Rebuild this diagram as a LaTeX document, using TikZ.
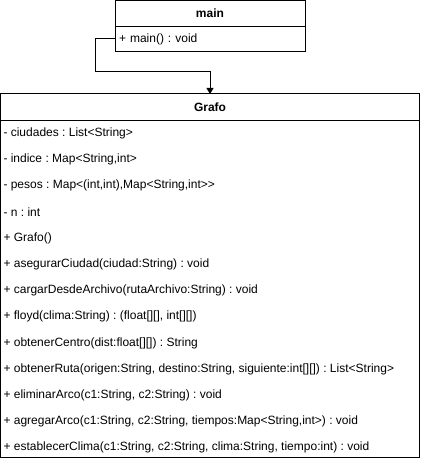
\documentclass[tikz,border=0pt]{standalone}
\usepackage{fontspec}
\setmainfont{Liberation Sans}
\usetikzlibrary{arrows.meta}
\frenchspacing
\begin{document}
\begin{tikzpicture}[x=1pt,y=-1pt,line width=1pt,
  every node/.style={inner sep=0pt,outer sep=0pt,font=\fontsize{12}{14}\selectfont},
  box/.style={draw,anchor=north west},
  head/.style={box,font=\fontsize{12}{14}\selectfont\bfseries},
  member/.style={anchor=west}]
\useasboundingbox (0,0) rectangle (421,462);
% main class
\node[head,minimum width=190pt,minimum height=26pt] (mainhead) at (115,0.5) {main};
\node[box,minimum width=190pt,minimum height=25pt,text width=182pt,align=left,inner xsep=4pt] (mainrow) at (115,26.5) {+ main() : void};
% Grafo class
\node[head,minimum width=419pt,minimum height=27pt] (grafo) at (0.5,94) {Grafo};
\node[box,minimum width=419pt,minimum height=336.5pt] (grafobody) at (0.5,121) {};
\node[member] (m1) at (3.5,133.3) {- ciudades : List<String>};
\node[member] (m2) at (3.5,159.5) {- indice : Map<String,int>};
\node[member] (m3) at (3.5,185.7) {- pesos : Map<(int,int),Map<String,int>{}>};
\node[member] (m4) at (3.5,211.9) {- n : int};
\node[member] (m5) at (3.5,238.1) {+ Grafo()};
\node[member] (m6) at (3.5,264.3) {+ asegurarCiudad(ciudad:String) : void};
\node[member] (m7) at (3.5,290.5) {+ cargarDesdeArchivo(rutaArchivo:String) : void};
\node[member] (m8) at (3.5,316.7) {+ floyd(clima:String) : (float[][], int[][])};
\node[member] (m9) at (3.5,342.9) {+ obtenerCentro(dist:float[][]) : String};
\node[member] (m10) at (3.5,369.1) {+ obtenerRuta(origen:String, destino:String, siguiente:int[][]) : List<String>};
\node[member] (m11) at (3.5,395.3) {+ eliminarArco(c1:String, c2:String) : void};
\node[member] (m12) at (3.5,421.5) {+ agregarArco(c1:String, c2:String, tiempos:Map<String,int>) : void};
\node[member] (m13) at (3.5,447.7) {+ establecerClima(c1:String, c2:String, clima:String, tiempo:int) : void};
% connector
\coordinate (bend) at (95,72);
\draw[-{Triangle[length=6pt,width=7pt]}] (mainrow.west) -| (bend) -| (grafo.north);
\end{tikzpicture}
\end{document}
